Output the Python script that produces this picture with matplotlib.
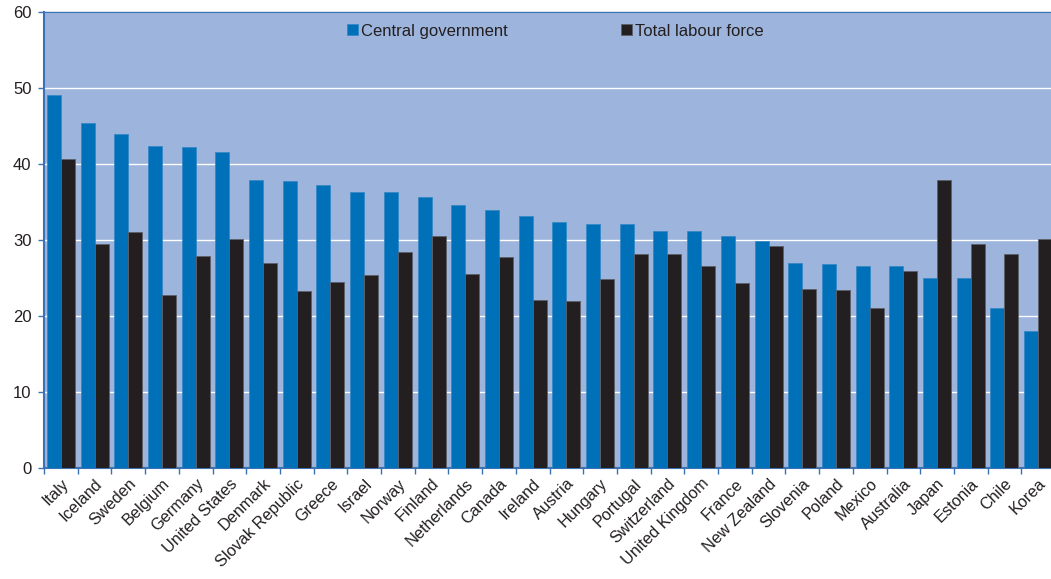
import matplotlib
matplotlib.use("Agg")
import matplotlib.pyplot as plt
import numpy as np

countries = ["Italy", "Iceland", "Sweden", "Belgium", "Germany", "United States", "Denmark",
             "Slovak Republic", "Greece", "Israel", "Norway", "Finland", "Netherlands", "Canada",
             "Ireland", "Austria", "Hungary", "Portugal", "Switzerland", "United Kingdom", "France",
             "New Zealand", "Slovenia", "Poland", "Mexico", "Australia", "Japan", "Estonia",
             "Chile", "Korea"]
central_gov = [49.1, 45.4, 44.0, 42.4, 42.2, 41.6, 37.9, 37.8, 37.2, 36.3, 36.3, 35.7, 34.6, 33.9,
               33.2, 32.4, 32.1, 32.1, 31.2, 31.2, 30.5, 29.9, 27.0, 26.8, 26.6, 26.6, 25.0, 25.0,
               21.0, 18.0]
labour_force = [40.7, 29.5, 31.0, 22.8, 27.9, 30.1, 27.0, 23.2, 24.5, 25.4, 28.4, 30.5, 25.5, 27.7,
                22.1, 21.9, 24.8, 28.1, 28.1, 26.6, 24.3, 29.2, 23.5, 23.4, 21.0, 25.9, 37.9, 29.4,
                28.1, 30.1]
yticks = [0, 10, 20, 30, 40, 50, 60]

plt.rcParams['font.family'] = ['Liberation Sans', 'DejaVu Sans']

fig = plt.figure(figsize=(10.51, 5.79), dpi=100)
ax = fig.add_axes([44/1051, (579-467.7)/579, 1011/1051, 455.7/579])

bg = '#9db4dc'
blue = '#0070b8'
dark = '#231f20'
spine = '#3a72b4'
ax.set_facecolor(bg)

x = np.arange(len(countries))
w = 0.415
ax.bar(x - w/2, central_gov, width=w, color=blue, edgecolor='#2f86c6', linewidth=0.5,
       label='Central government', zorder=3)
ax.bar(x + w/2, labour_force, width=w, color=dark, edgecolor='#5c6068', linewidth=0.6,
       label='Total labour force', zorder=3)

ax.set_xlim(-0.5, len(countries) - 0.5)
ax.set_ylim(0, 60)
ax.set_yticks(yticks)
ax.yaxis.grid(True, color='white', linewidth=1.0, zorder=1)
ax.set_axisbelow(True)

ax.set_xticks(x)
ax.set_xticklabels(countries, rotation=45, ha='right', rotation_mode='anchor',
                   fontsize=11.7, color=dark)
ax.set_xticks(np.arange(-0.5, len(countries), 1.0), minor=True)
ax.tick_params(axis='x', which='major', length=0, pad=6)
ax.tick_params(axis='x', which='minor', length=4, width=1, color=spine, direction='out')
ax.tick_params(axis='y', length=4, width=1, color=spine, labelsize=12, labelcolor=dark, pad=5)

for s in ['left', 'bottom', 'top']:
    ax.spines[s].set_color(spine)
    ax.spines[s].set_linewidth(1.5)
ax.spines['top'].set_linewidth(1.0)
ax.spines['right'].set_visible(False)

leg = ax.legend(loc='upper center', bbox_to_anchor=(0.506, 1.0), ncol=2, frameon=False,
                fontsize=12, handlelength=0.62, handleheight=0.62, handletextpad=0.22,
                columnspacing=6.8, borderaxespad=0.3)
for t in leg.get_texts():
    t.set_color(dark)

fig.savefig('out.png', dpi=100)
